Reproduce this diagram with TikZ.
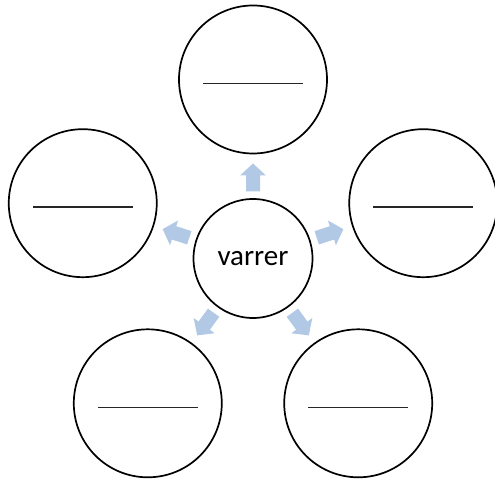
\documentclass[tikz,border=0pt]{standalone}
\usepackage{fontspec}
\setmainfont{Carlito}
\usetikzlibrary{calc}
\definecolor{arrowblue}{RGB}{178,201,230}
\begin{document}
\begin{tikzpicture}[x=1pt,y=1pt,
  outer/.style={circle,draw=black,line width=1.7pt,minimum size=148pt,inner sep=0pt},
  hub/.style={circle,draw=black,line width=1.7pt,minimum size=119pt,inner sep=0pt,font=\fontsize{29}{30}\selectfont},
  blank/.style={draw=black!85,line width=1.6pt},
  blockarrow/.style={fill=arrowblue,draw=none}]
\useasboundingbox (0,0) rectangle (495,481);
\node[hub] (c) at (253,222.5) {varrer};
\node[outer] (t)  at ($(c.center)+(90:179)$) {};
\node[outer] (l)  at ($(c.center)+(162:179)$) {};
\node[outer] (bl) at ($(c.center)+(234:179)$) {};
\node[outer] (br) at ($(c.center)+(306:179)$) {};
\node[outer] (r)  at ($(c.center)+(18:179)$) {};
\foreach \n in {t,l,bl,br,r}{
  \coordinate (\n a) at ($(\n.center)+(-50,-4)$);
  \coordinate (\n b) at ($(\n.center)+(50,-4)$);
  \draw[blank] (\n a) -- (\n b);
}
\foreach \ang in {90,162,234,306,18}{
  \begin{scope}[shift={(c.center)},rotate=\ang]
    \fill[blockarrow] (67,-7) -- (83,-7) -- (83,-13) -- (95,0) -- (83,13) -- (83,7) -- (67,7) -- cycle;
  \end{scope}
}
\end{tikzpicture}
\end{document}
